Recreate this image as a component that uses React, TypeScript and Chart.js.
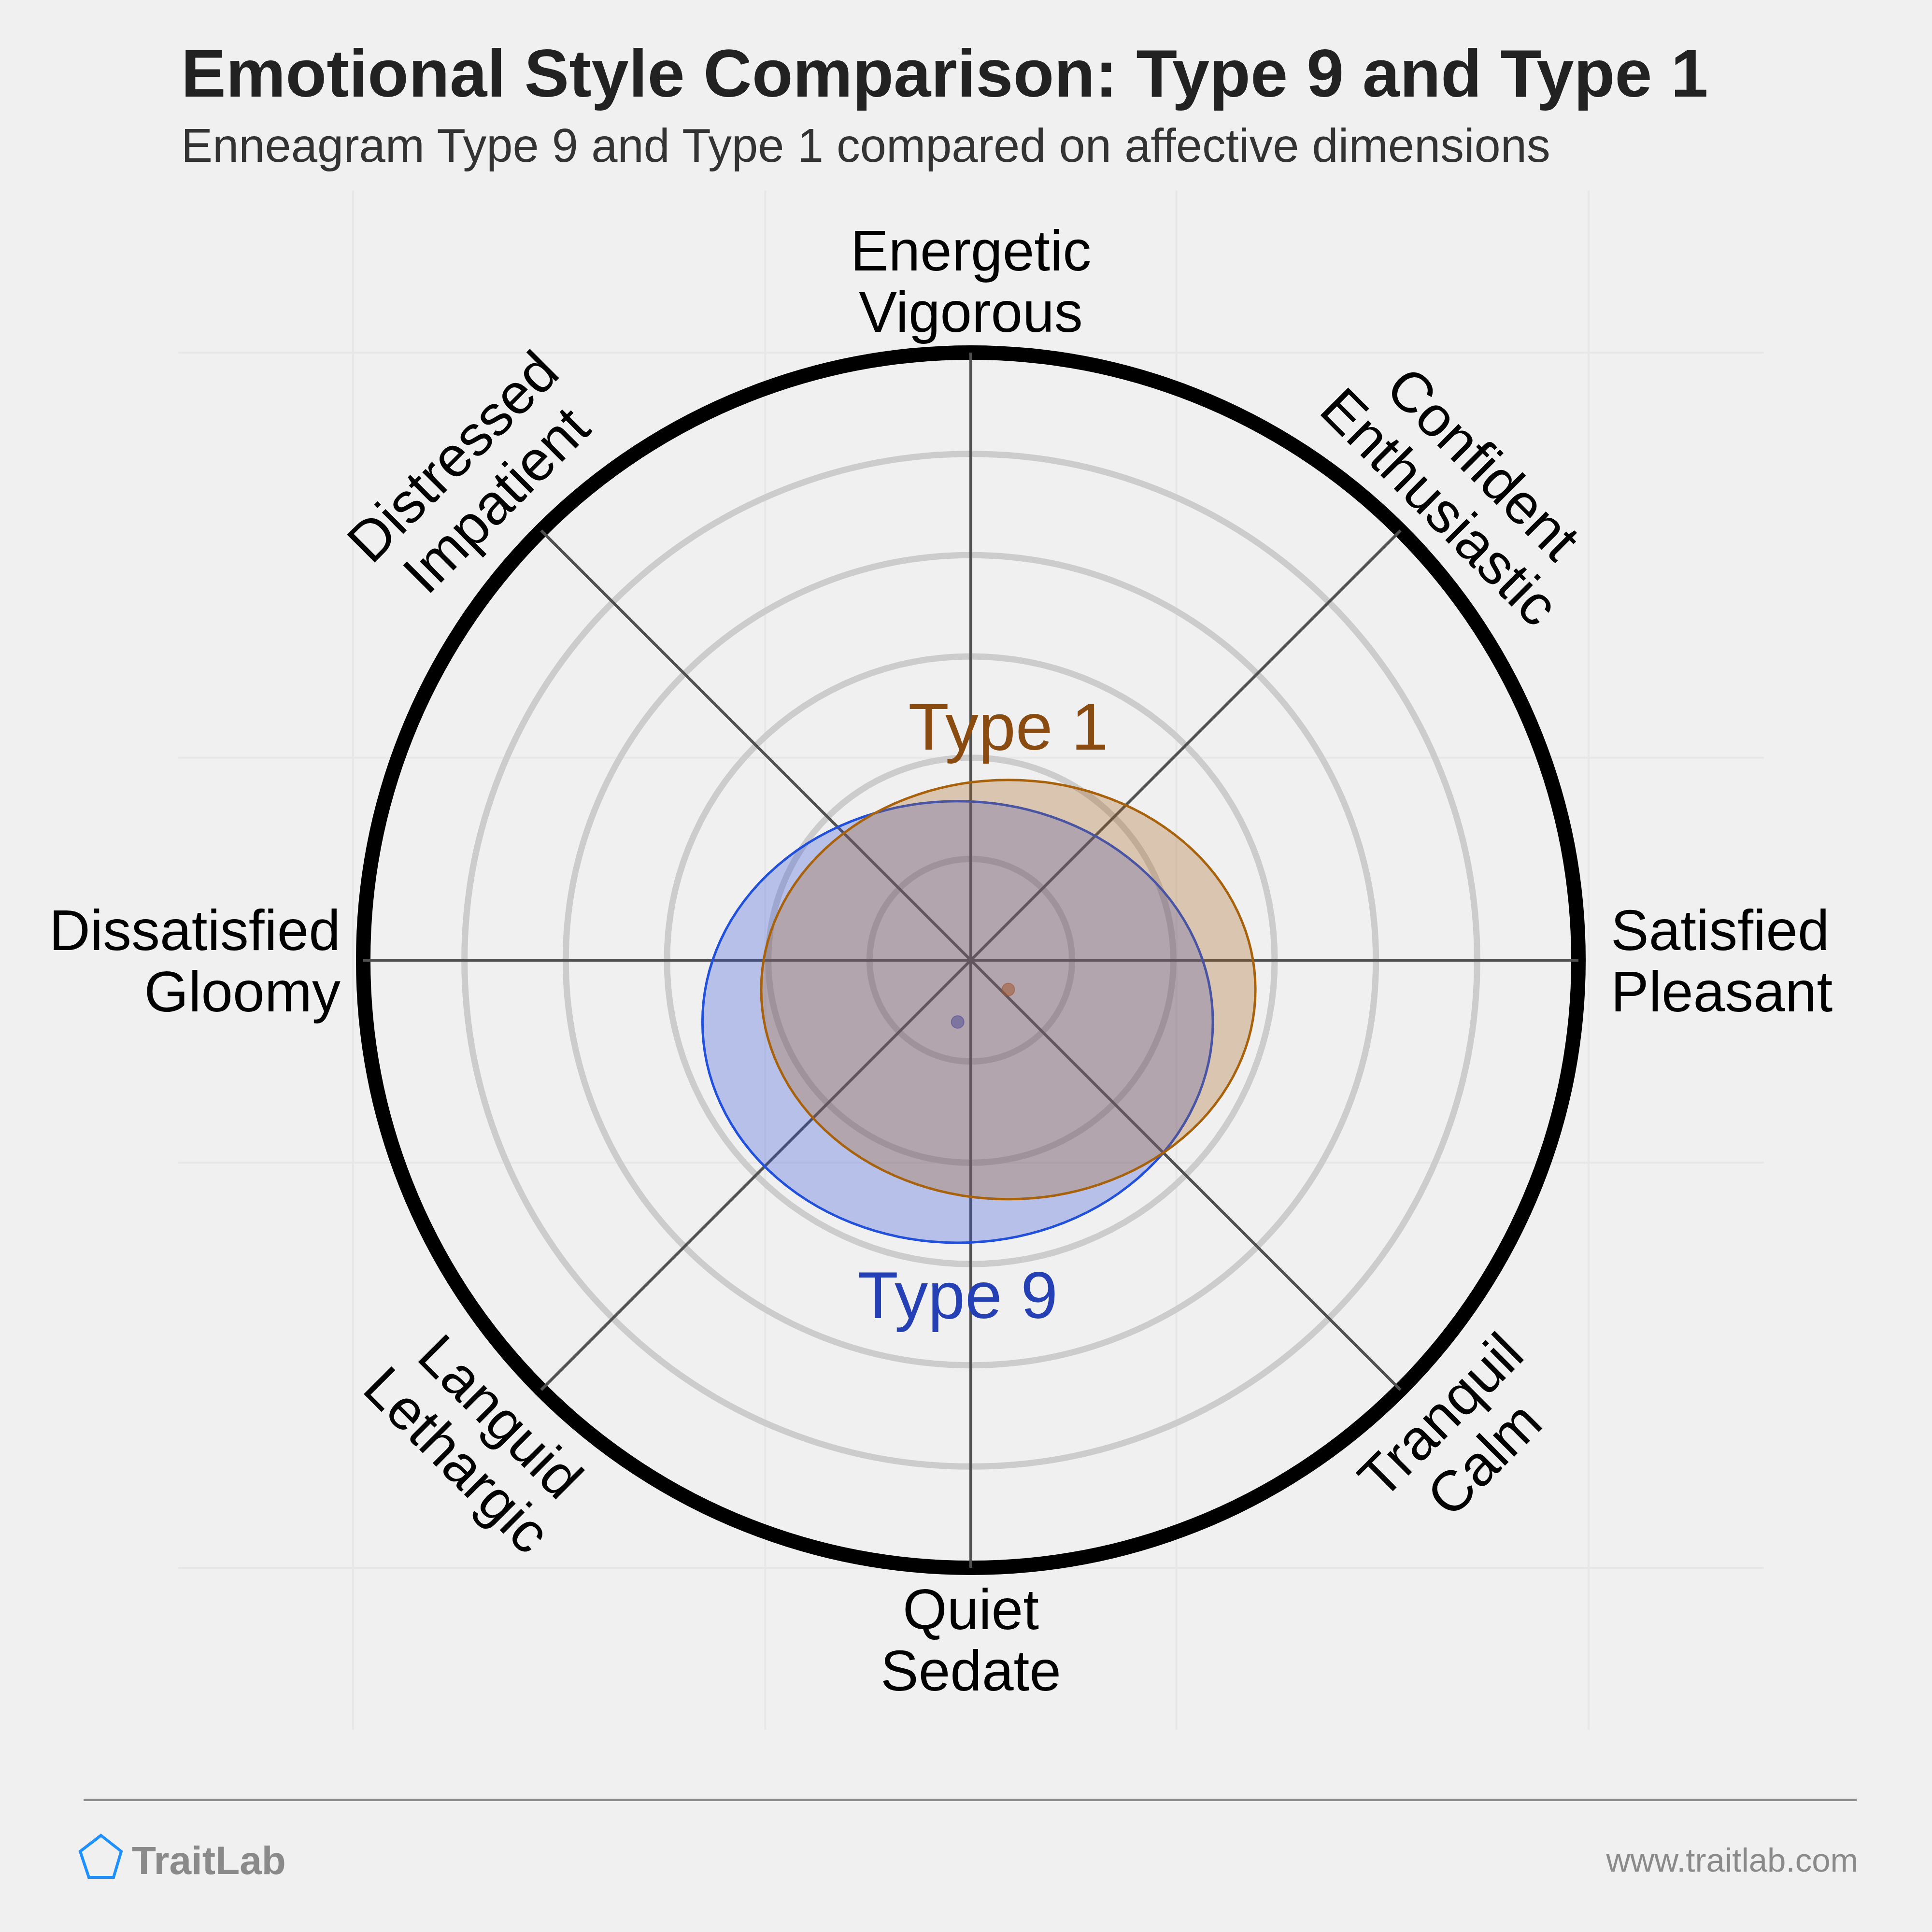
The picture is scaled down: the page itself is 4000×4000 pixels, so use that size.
import React, { useEffect, useRef } from "react";
import { Chart, registerables } from "chart.js";

Chart.register(...registerables);

// ---------- data ----------
const AXIS_LABELS: string[][] = [
  ["Energetic", "Vigorous"],
  ["Confident", "Enthusiastic"],
  ["Satisfied", "Pleasant"],
  ["Tranquil", "Calm"],
  ["Quiet", "Sedate"],
  ["Languid", "Lethargic"],
  ["Dissatisfied", "Gloomy"],
  ["Distressed", "Impatient"],
];
const SCALE_MAX = 6;
const RING_STEP = 1;

const TYPE_NAMES = ["Type 9", "Type 1"];
const CENTER_X = [-0.13, 0.37]; // pleasant (+) / unpleasant (-)
const CENTER_Y = [-0.61, -0.29]; // energetic (+) / quiet (-)
const SPREAD_X = [2.52, 2.44];
const SPREAD_Y = [2.18, 2.07];

// ---------- styles ----------
const FILL = ["rgba(50,83,217,0.3)", "rgba(165,100,30,0.3)"];
const STROKE = ["#2150dc", "#a8620c"];
const DOT = ["rgba(45,65,200,0.55)", "rgba(160,85,45,0.55)"];
const TEXT_COLOR = ["#2440b4", "#8a4b10"];
const LABEL_SIDE = ["below", "above"];

const FONT = '"Liberation Sans", Arial, Helvetica, sans-serif';
const AXIS_FONT_SIZE = 118;
const AXIS_LINE_H = 127;
const LABEL_ROT = [0, Math.PI / 4, 0, -Math.PI / 4, 0, Math.PI / 4, 0, -Math.PI / 4];
const LABEL_ALIGN: CanvasTextAlign[] = ["center", "center", "left", "center", "center", "center", "right", "center"];
const LABEL_OFFSET = [149, 129, 67, 123, 148, 171, 47, 197];
const LABEL_ADJ_X = [0, 36, 0, 40, 0, -7, 0, 0];
const LABEL_ADJ_Y = [0, -4, 0, 10, 0, -22, 0, 30];
const FAINT_X = [-6.1, -2.03, 2.03, 6.1];
const FAINT_Y = [-6, -2, 2, 6];

const overlayPlugin = {
  id: "overlay",
  beforeDraw(chart: any) {
    const s = chart.scales.r;
    const ctx = chart.ctx as CanvasRenderingContext2D;
    const d = (v: number) => s.getDistanceFromCenterForValue(v);
    ctx.save();
    ctx.strokeStyle = "#e7e7e7";
    ctx.lineWidth = 4;
    const yTop = s.yCenter - d(7.6);
    const yBot = s.yCenter + d(7.6);
    const xL = s.xCenter - d(7.83);
    const xR = s.xCenter + d(7.83);
    FAINT_X.forEach((u) => {
      const x = s.xCenter + d(u);
      ctx.beginPath();
      ctx.moveTo(x, yTop);
      ctx.lineTo(x, yBot);
      ctx.stroke();
    });
    FAINT_Y.forEach((u) => {
      const y = s.yCenter - d(u);
      ctx.beginPath();
      ctx.moveTo(xL, y);
      ctx.lineTo(xR, y);
      ctx.stroke();
    });
    ctx.restore();
  },
  afterDatasetsDraw(chart: any) {
    const s = chart.scales.r;
    const ctx = chart.ctx as CanvasRenderingContext2D;
    const d = (v: number) => s.getDistanceFromCenterForValue(v);
    TYPE_NAMES.forEach((name, i) => {
      const cx = s.xCenter + d(CENTER_X[i]);
      const cy = s.yCenter - d(CENTER_Y[i]);
      const rx = d(SPREAD_X[i]);
      const ry = d(SPREAD_Y[i]);
      ctx.save();
      ctx.beginPath();
      ctx.ellipse(cx, cy, rx, ry, 0, 0, Math.PI * 2);
      ctx.fillStyle = FILL[i];
      ctx.fill();
      ctx.lineWidth = 5;
      ctx.strokeStyle = STROKE[i];
      ctx.stroke();
      ctx.beginPath();
      ctx.arc(cx, cy, 13, 0, Math.PI * 2);
      ctx.fillStyle = DOT[i];
      ctx.fill();
      ctx.lineWidth = 2;
      ctx.strokeStyle = DOT[i];
      ctx.stroke();
      ctx.restore();
    });
    TYPE_NAMES.forEach((name, i) => {
      const cx = s.xCenter + d(CENTER_X[i]);
      const cy = s.yCenter - d(CENTER_Y[i]);
      const ry = d(SPREAD_Y[i]);
      ctx.save();
      ctx.font = `138px ${FONT}`;
      ctx.fillStyle = TEXT_COLOR[i];
      ctx.textAlign = "center";
      ctx.textBaseline = "alphabetic";
      const y = LABEL_SIDE[i] === "above" ? cy - ry - 63 : cy + ry + 156;
      ctx.fillText(name, cx, y);
      ctx.restore();
    });
  },
  afterDraw(chart: any) {
    const s = chart.scales.r;
    const ctx = chart.ctx as CanvasRenderingContext2D;
    const labels = chart.data.labels as string[][];
    labels.forEach((lines, i) => {
      const p = s.getPointPosition(i, s.drawingArea + LABEL_OFFSET[i]);
      ctx.save();
      ctx.translate(p.x + LABEL_ADJ_X[i], p.y + LABEL_ADJ_Y[i]);
      ctx.rotate(LABEL_ROT[i]);
      ctx.font = `${AXIS_FONT_SIZE}px ${FONT}`;
      ctx.fillStyle = "#000000";
      ctx.textAlign = LABEL_ALIGN[i];
      ctx.textBaseline = "alphabetic";
      const cap = AXIS_FONT_SIZE * 0.716;
      const first = (-(lines.length - 1) * AXIS_LINE_H) / 2 + cap / 2;
      lines.forEach((ln, k) => ctx.fillText(ln, 0, first + k * AXIS_LINE_H));
      ctx.restore();
    });
  },
};

export default function App() {
  const canvasRef = useRef<HTMLCanvasElement>(null);

  useEffect(() => {
    const canvas = canvasRef.current;
    if (!canvas) return;
    const chart = new Chart(canvas, {
      type: "radar",
      data: { labels: AXIS_LABELS as any, datasets: [] },
      options: {
        animation: false,
        responsive: false,
        maintainAspectRatio: false,
        devicePixelRatio: 1,
        events: [],
        layout: { padding: { left: 752, right: 732, top: 730, bottom: 754 } },
        plugins: {
          legend: { display: false },
          tooltip: { enabled: false },
          title: { display: false },
        },
        scales: {
          r: {
            min: 0,
            max: SCALE_MAX,
            ticks: { display: false, stepSize: RING_STEP },
            grid: {
              circular: true,
              color: (c: any) => (c.tick && c.tick.value >= SCALE_MAX ? "#000000" : "#cccccc"),
              lineWidth: (c: any) => (c.tick && c.tick.value >= SCALE_MAX ? 30 : 13),
            },
            angleLines: { display: true, color: "#505050", lineWidth: 6 },
            pointLabels: { display: false },
          },
        },
      } as any,
      plugins: [overlayPlugin],
    });
    return () => chart.destroy();
  }, []);

  return (
    <div
      style={{
        position: "absolute",
        left: 0,
        top: 0,
        width: 4000,
        height: 4000,
        background: "#f0f0f0",
        overflow: "hidden",
        fontFamily: FONT,
      }}
    >
      <canvas
        ref={canvasRef}
        width={4000}
        height={4000}
        style={{ position: "absolute", left: 0, top: 0, width: 4000, height: 4000 }}
      />
      <div
        style={{
          position: "absolute",
          left: 375,
          top: 82,
          fontSize: 139,
          lineHeight: "139px",
          fontWeight: "bold",
          color: "#222222",
          whiteSpace: "nowrap",
        }}
      >
        Emotional Style Comparison: Type 9 and Type 1
      </div>
      <div
        style={{
          position: "absolute",
          left: 375,
          top: 253,
          fontSize: 97.5,
          lineHeight: "97.5px",
          color: "#333333",
          whiteSpace: "nowrap",
        }}
      >
        Enneagram Type 9 and Type 1 compared on affective dimensions
      </div>
      <div
        style={{
          position: "absolute",
          left: 173,
          top: 3724,
          width: 3671,
          height: 5,
          background: "#8c8c8c",
        }}
      />
      <svg
        style={{ position: "absolute", left: 140, top: 3780 }}
        width={140}
        height={130}
      >
        <polygon
          points="69,20 26,53 44,107 95,107 111,53"
          fill="none"
          stroke="#1e90ff"
          strokeWidth={6}
          strokeLinejoin="miter"
        />
      </svg>
      <div
        style={{
          position: "absolute",
          left: 273,
          top: 3811,
          fontSize: 82,
          lineHeight: "82px",
          fontWeight: "bold",
          color: "#8a8a8a",
          whiteSpace: "nowrap",
        }}
      >
        TraitLab
      </div>
      <div
        style={{
          position: "absolute",
          right: 153,
          top: 3817,
          fontSize: 69,
          lineHeight: "69px",
          color: "#8a8a8a",
          whiteSpace: "nowrap",
          textAlign: "right",
        }}
      >
        www.traitlab.com
      </div>
    </div>
  );
}
